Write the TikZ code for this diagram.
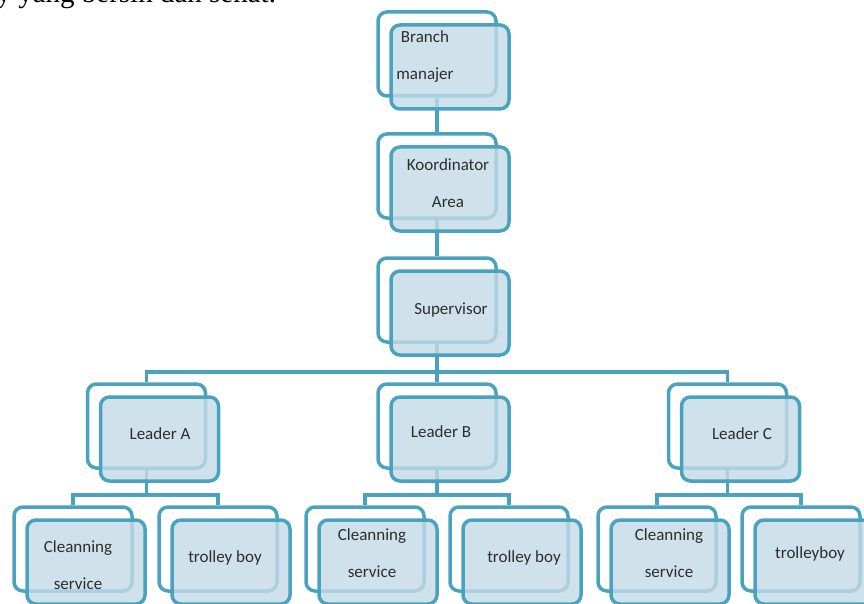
\documentclass[tikz,border=0pt]{standalone}
\usepackage{fontspec}
\setmainfont{Liberation Serif}
\newfontfamily\boxfont{Carlito}
\usetikzlibrary{calc,backgrounds}
\definecolor{boxline}{RGB}{74,163,190}
\definecolor{boxfill}{RGB}{196,219,230}
\definecolor{textgray}{RGB}{45,45,45}
\begin{document}
\begin{tikzpicture}
[   x=1pt, y=-1pt,
    backbox/.style={draw=boxline,fill=white,line width=3.5pt,rounded corners=9pt,minimum width=118pt,minimum height=84pt},
    frontbox/.style={draw=boxline,fill=boxfill,fill opacity=0.8,line width=3.5pt,rounded corners=9pt,minimum width=118pt,minimum height=84pt},
    link/.style={draw=boxline,line width=3.5pt},
    lbl/.style={font=\boxfont\fontsize{17}{37}\selectfont,text=textgray,align=center},
]
    \useasboundingbox (0,0) rectangle (864,604);
    \clip (0,0) rectangle (864,604);
    \node[anchor=base west,font=\fontsize{29}{29}\selectfont] (head) at (-7,3) {y yang bersih dan sehat.};
    % boxes: name/x/y of the back box
    \foreach \n/\x/\y in {bm/437/54, ka/437/176, sv/437/300,
                          la/146.5/426, lb/437/426, lc/727.5/426,
                          ca/73/549, ta/218/549, cb/365/549,
                          tb/509/549, cc/657/549, tc/801/549}
    {   \node[backbox] (\n-b) at (\x,\y) {};
        \node[frontbox] (\n) at ($(\n-b)+(13,13)$) {};
    }
    % labels
    \node[lbl] (bm-t) at (425,57) {Branch\\manajer};
    \node[lbl] (ka-t) at (448,183) {Koordinator\\Area};
    \node[lbl] (sv-t) at (451,310) {Supervisor};
    \node[lbl] (la-t) at (160,434) {Leader A};
    \node[lbl] (lb-t) at (441,432) {Leader B};
    \node[lbl] (lc-t) at (742,434) {Leader C};
    \node[lbl] (ca-t) at (78,565) {Cleanning\\service};
    \node[lbl] (ta-t) at (225,558) {trolley boy};
    \node[lbl] (cb-t) at (372,553) {Cleanning\\service};
    \node[lbl] (tb-t) at (524,558) {trolley boy};
    \node[lbl] (cc-t) at (669,553) {Cleanning\\service};
    \node[lbl] (tc-t) at (810,554) {trolleyboy};
    \coordinate (bus) at (437,372);
    \coordinate (cbus) at (437,495);
    \begin{pgfonlayer}{background}
        \fill[white] (0,0) rectangle (864,604);
        \draw[link] (bm-b.south) -- (ka-b.north);
        \draw[link] (ka-b.south) -- (sv-b.north);
        \draw[link] (sv-b.south) -- (lb-b.north);
        \foreach \l in {la,lc}
        {   \draw[link] (sv-b.south |- bus) -| (\l-b.north);
        }
        \foreach \l/\c/\t in {la/ca/ta, lb/cb/tb, lc/cc/tc}
        {   \draw[link] (\l-b.south) -- (\l-b.south |- cbus) -| (\c-b.north);
            \draw[link] (\l-b.south |- cbus) -| (\t-b.north);
        }
    \end{pgfonlayer}
\end{tikzpicture}
\end{document}
